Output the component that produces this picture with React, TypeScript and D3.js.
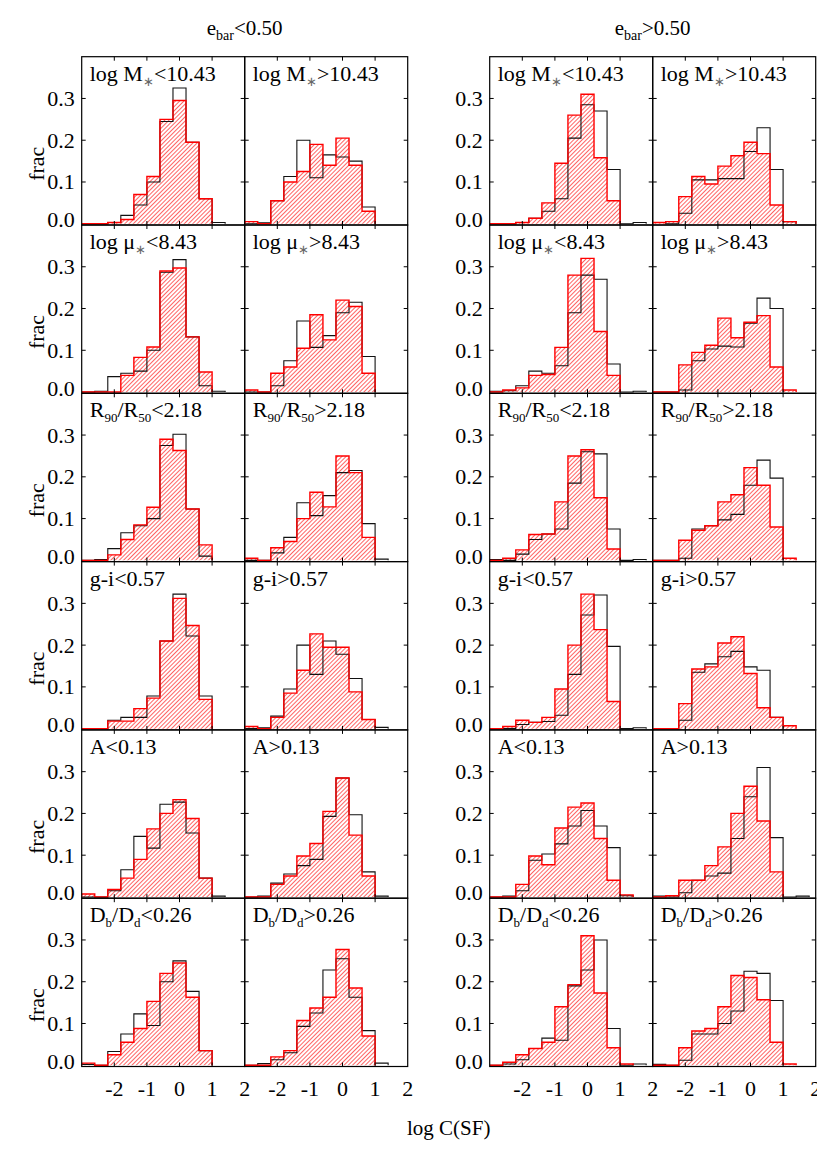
import * as d3 from "d3"

// bin edges of log C(SF)
const binEdges = [-3.0, -2.6, -2.2, -1.8, -1.4, -1.0, -0.6, -0.2, 0.2, 0.6, 1.0, 1.4, 1.8]
const xTicks = [-2, -1, 0, 1, 2]
const yTicks = [0.0, 0.1, 0.2, 0.3]

const groupTitles = ["<0.50", ">0.50"]
const thresholds = ["10.43", "8.43", "2.18", "0.57", "0.13", "0.26"]

type Seg = { t: string; sub?: boolean; fill?: string }
const rowNames: Seg[][] = [
  [{ t: "log M" }, { t: "∗", sub: true, fill: "#666" }],
  [{ t: "log μ" }, { t: "∗", sub: true, fill: "#666" }],
  [{ t: "R" }, { t: "90", sub: true }, { t: "/R" }, { t: "50", sub: true }],
  [{ t: "g-i" }],
  [{ t: "A" }],
  [{ t: "D" }, { t: "b", sub: true }, { t: "/D" }, { t: "d", sub: true }],
]

// e_bar < 0.50 : panels row by row, [low, high] for each property
const eLowBlack = [
  [0, 0, 0.003, 0.02, 0.045, 0.1, 0.245, 0.325, 0.195, 0.06, 0.003, 0],
  [0, 0.002, 0.055, 0.113, 0.2, 0.11, 0.165, 0.16, 0.15, 0.04, 0, 0],
  [0, 0.002, 0.037, 0.045, 0.05, 0.1, 0.287, 0.317, 0.132, 0.015, 0.002, 0],
  [0, 0, 0.015, 0.075, 0.17, 0.107, 0.135, 0.19, 0.215, 0.085, 0, 0],
  [0, 0.002, 0.028, 0.066, 0.083, 0.1, 0.275, 0.302, 0.123, 0.01, 0, 0],
  [0, 0, 0.018, 0.055, 0.138, 0.107, 0.155, 0.21, 0.215, 0.088, 0.003, 0],
  [0, 0, 0.02, 0.027, 0.027, 0.078, 0.21, 0.322, 0.222, 0.078, 0, 0],
  [0, 0.002, 0.03, 0.095, 0.2, 0.13, 0.21, 0.178, 0.12, 0.022, 0.003, 0],
  [0, 0, 0.015, 0.065, 0.145, 0.117, 0.222, 0.227, 0.153, 0.045, 0.002, 0],
  [0, 0.002, 0.033, 0.055, 0.075, 0.09, 0.193, 0.285, 0.197, 0.06, 0.002, 0],
  [0.002, 0, 0.033, 0.075, 0.123, 0.095, 0.2, 0.25, 0.177, 0.035, 0, 0],
  [0, 0.004, 0.013, 0.03, 0.093, 0.125, 0.228, 0.255, 0.163, 0.083, 0.005, 0],
]
const eLowRed = [
  [0, 0, 0.003, 0.01, 0.07, 0.113, 0.25, 0.295, 0.195, 0.06, 0, 0],
  [0.005, 0, 0.055, 0.1, 0.125, 0.19, 0.14, 0.205, 0.14, 0.03, 0, 0],
  [0, 0, 0, 0.04, 0.083, 0.108, 0.29, 0.297, 0.132, 0.048, 0, 0],
  [0.005, 0, 0.045, 0.06, 0.105, 0.185, 0.125, 0.22, 0.205, 0.045, 0, 0],
  [0, 0, 0.013, 0.05, 0.085, 0.127, 0.29, 0.263, 0.123, 0.037, 0, 0],
  [0.005, 0, 0.03, 0.045, 0.1, 0.163, 0.128, 0.25, 0.21, 0.055, 0, 0],
  [0, 0, 0.018, 0.018, 0.048, 0.073, 0.21, 0.312, 0.247, 0.07, 0, 0],
  [0.005, 0, 0.027, 0.085, 0.14, 0.227, 0.195, 0.195, 0.088, 0.022, 0, 0],
  [0.007, 0, 0.018, 0.045, 0.09, 0.163, 0.2, 0.233, 0.188, 0.045, 0, 0],
  [0, 0, 0.03, 0.05, 0.098, 0.128, 0.205, 0.285, 0.148, 0.05, 0, 0],
  [0.005, 0, 0.025, 0.055, 0.088, 0.153, 0.22, 0.245, 0.163, 0.035, 0, 0],
  [0, 0, 0.02, 0.035, 0.107, 0.137, 0.163, 0.277, 0.185, 0.07, 0, 0],
]

// e_bar > 0.50
const eHighBlack = [
  [0, 0, 0.003, 0.013, 0.03, 0.06, 0.205, 0.285, 0.27, 0.13, 0, 0.003],
  [0.003, 0, 0.025, 0.105, 0.105, 0.108, 0.108, 0.173, 0.23, 0.13, 0.005, 0],
  [0.002, 0.003, 0.015, 0.05, 0.045, 0.063, 0.19, 0.28, 0.27, 0.067, 0, 0.002],
  [0, 0, 0.005, 0.075, 0.103, 0.11, 0.108, 0.165, 0.225, 0.2, 0, 0],
  [0.002, 0, 0.015, 0.05, 0.063, 0.075, 0.185, 0.26, 0.255, 0.075, 0, 0.002],
  [0, 0, 0.005, 0.075, 0.083, 0.097, 0.11, 0.18, 0.24, 0.197, 0, 0],
  [0, 0, 0.01, 0.015, 0.017, 0.032, 0.13, 0.272, 0.32, 0.197, 0, 0.002],
  [0, 0, 0.02, 0.135, 0.155, 0.172, 0.185, 0.148, 0.14, 0.027, 0, 0],
  [0, 0.002, 0.015, 0.088, 0.103, 0.127, 0.17, 0.207, 0.17, 0.118, 0.003, 0],
  [0.002, 0, 0.01, 0.04, 0.05, 0.057, 0.14, 0.24, 0.31, 0.142, 0, 0.002],
  [0, 0.003, 0.013, 0.04, 0.065, 0.06, 0.19, 0.228, 0.3, 0.088, 0, 0.003],
  [0.002, 0, 0.012, 0.075, 0.075, 0.1, 0.13, 0.225, 0.22, 0.155, 0, 0],
]
const eHighRed = [
  [0, 0, 0.003, 0.013, 0.05, 0.145, 0.26, 0.31, 0.158, 0.055, 0, 0],
  [0.003, 0.005, 0.065, 0.113, 0.095, 0.138, 0.163, 0.195, 0.168, 0.045, 0.005, 0],
  [0, 0.005, 0.01, 0.04, 0.042, 0.107, 0.28, 0.32, 0.145, 0.04, 0, 0],
  [0, 0, 0.065, 0.095, 0.112, 0.177, 0.13, 0.167, 0.183, 0.06, 0.005, 0],
  [0, 0.005, 0.025, 0.062, 0.063, 0.14, 0.25, 0.265, 0.15, 0.027, 0, 0],
  [0, 0, 0.048, 0.072, 0.083, 0.14, 0.157, 0.222, 0.18, 0.08, 0.005, 0],
  [0, 0.005, 0.02, 0.015, 0.027, 0.095, 0.2, 0.322, 0.237, 0.065, 0, 0],
  [0, 0, 0.06, 0.143, 0.148, 0.205, 0.22, 0.132, 0.05, 0.027, 0.007, 0],
  [0, 0, 0.03, 0.098, 0.077, 0.165, 0.215, 0.225, 0.14, 0.04, 0.005, 0],
  [0, 0.003, 0.04, 0.04, 0.075, 0.12, 0.2, 0.265, 0.182, 0.06, 0, 0],
  [0, 0.007, 0.025, 0.04, 0.055, 0.14, 0.193, 0.31, 0.173, 0.042, 0.003, 0],
  [0, 0, 0.042, 0.082, 0.088, 0.14, 0.215, 0.21, 0.157, 0.055, 0.003, 0],
]

const W = 817
const H = 1158
const FONT = "'Liberation Serif', 'Times New Roman', serif"
const groupLeft = [81.7, 489.7]
const panelW = 163
const top0 = 56.7
const rowH = 168.3
const TICK = 4
const SUB_DY = 5

function segs(list: Seg[], subSize = 14) {
  let prevSub = false
  return list.map((s, i) => {
    const dy = (s.sub ? SUB_DY : 0) - (prevSub ? SUB_DY : 0)
    prevSub = !!s.sub
    return (
      <tspan key={i} dy={dy} fontSize={s.sub ? subSize : undefined} fill={s.fill}>
        {s.t}
      </tspan>
    )
  })
}

// step outline from the left edge up to the last non-empty bin
function stepPoints(vals: number[]): [number, number][] {
  let last = vals.length - 1
  while (last > 0 && vals[last] === 0) last--
  const pts: [number, number][] = [[binEdges[0], 0]]
  for (let i = 0; i <= last; i++) pts.push([binEdges[i], vals[i]])
  pts.push([binEdges[last + 1], vals[last]])
  pts.push([binEdges[last + 1], 0])
  return pts
}

function Panel({
  x0,
  y0,
  black,
  red,
  label,
  id,
  showY,
  showX,
}: {
  x0: number
  y0: number
  black: number[]
  red: number[]
  label: Seg[]
  id: string
  showY: boolean
  showX: boolean
}) {
  const x = d3.scaleLinear().domain([-3, 2]).range([x0, x0 + panelW])
  const y = d3.scaleLinear().domain([-0.003, 0.4]).range([y0 + rowH, y0])
  const line = d3
    .line<[number, number]>()
    .x((d) => x(d[0]))
    .y((d) => y(d[1]))
    .curve(d3.curveStepAfter)
  const redPath = line(stepPoints(red)) ?? ""
  const blackPath = line(stepPoints(black)) ?? ""
  const bottom = y0 + rowH
  return (
    <g>
      <clipPath id={id}>
        <rect x={x0} y={y0} width={panelW} height={rowH} />
      </clipPath>
      <g clipPath={`url(#${id})`}>
        <path d={redPath + "Z"} fill="url(#hatch)" stroke="none" />
        <path d={blackPath} fill="none" stroke="#111" strokeWidth={1.1} />
        <path d={redPath} fill="none" stroke="#ff0000" strokeWidth={1.4} />
      </g>
      <rect x={x0} y={y0} width={panelW} height={rowH} fill="none" stroke="#000" strokeWidth={1.2} />
      {xTicks
        .filter((t) => t < 2)
        .map((t) => (
          <g key={"xt" + t} stroke="#000" strokeWidth={1}>
            <line x1={x(t)} x2={x(t)} y1={bottom} y2={bottom - TICK} />
            <line x1={x(t)} x2={x(t)} y1={y0} y2={y0 + TICK} />
          </g>
        ))}
      {yTicks
        .filter((t) => t > 0)
        .map((t) => (
          <g key={"yt" + t} stroke="#000" strokeWidth={1}>
            <line x1={x0} x2={x0 + TICK} y1={y(t)} y2={y(t)} />
            <line x1={x0 + panelW} x2={x0 + panelW - TICK} y1={y(t)} y2={y(t)} />
          </g>
        ))}
      <text x={x0 + 8} y={y0 + 24} fontSize={22} fontFamily={FONT}>
        {segs(label, 13)}
      </text>
      {showY &&
        yTicks.map((t) => (
          <text
            key={"yl" + t}
            x={x0 - 7}
            y={y(t) - (t === 0 ? 4 : 0)}
            textAnchor="end"
            dominantBaseline="central"
            fontSize={22}
            fontFamily={FONT}
          >
            {t.toFixed(1)}
          </text>
        ))}
      {showX &&
        xTicks.map((t) => (
          <text
            key={"xl" + t}
            x={x(t)}
            y={bottom + 22}
            textAnchor="middle"
            dominantBaseline="central"
            fontSize={22}
            fontFamily={FONT}
          >
            {t}
          </text>
        ))}
    </g>
  )
}

export default function App() {
  const groups = [
    { black: eLowBlack, red: eLowRed },
    { black: eHighBlack, red: eHighRed },
  ]
  return (
    <svg
      width={W}
      height={H}
      viewBox={`0 0 ${W} ${H}`}
      style={{ position: "absolute", left: 0, top: 0, background: "#fff" }}
    >
      <defs>
        <pattern id="hatch" patternUnits="userSpaceOnUse" width={3} height={3} patternTransform="rotate(45)">
          <line x1={0.5} y1={0} x2={0.5} y2={3} stroke="#ff3030" strokeWidth={0.75} />
        </pattern>
      </defs>
      <rect x={0} y={0} width={W} height={H} fill="#fff" />
      {groups.map((g, gi) => (
        <g key={gi}>
          <text
            x={groupLeft[gi] + panelW}
            y={35}
            textAnchor="middle"
            fontSize={21}
            fontFamily={FONT}
          >
            {segs([{ t: "e" }, { t: "bar", sub: true }, { t: groupTitles[gi] }], 14)}
          </text>
          {rowNames.map((name, ri) =>
            [0, 1].map((ci) => {
              const idx = ri * 2 + ci
              const label: Seg[] = [...name, { t: (ci === 0 ? "<" : ">") + thresholds[ri] }]
              return (
                <Panel
                  key={`${gi}-${ri}-${ci}`}
                  id={`clip-${gi}-${ri}-${ci}`}
                  x0={groupLeft[gi] + ci * panelW}
                  y0={top0 + ri * rowH}
                  black={g.black[idx]}
                  red={g.red[idx]}
                  label={label}
                  showY={ci === 0}
                  showX={ri === rowNames.length - 1}
                />
              )
            })
          )}
        </g>
      ))}
      {rowNames.map((_, ri) => (
        <text
          key={"frac" + ri}
          transform={`translate(36, ${top0 + ri * rowH + 107}) rotate(-90)`}
          textAnchor="middle"
          dominantBaseline="central"
          fontSize={22}
          fontFamily={FONT}
        >
          frac
        </text>
      ))}
      <text
        x={(groupLeft[0] + groupLeft[1] + 2 * panelW) / 2}
        y={1128}
        textAnchor="middle"
        dominantBaseline="central"
        fontSize={21}
        fontFamily={FONT}
      >
        log C(SF)
      </text>
    </svg>
  )
}
